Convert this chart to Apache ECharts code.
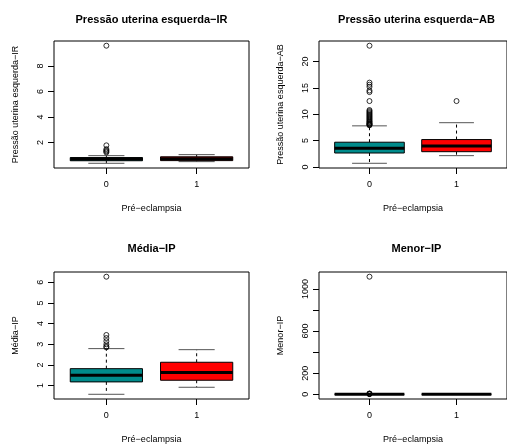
<!DOCTYPE html>
<html><head><meta charset="utf-8">
<script src="https://cdn.jsdelivr.net/npm/echarts@6/dist/echarts.min.js"></script>
<style>html,body{margin:0;padding:0;background:#fff}#c{width:507px;height:445px}</style>
</head><body><div id="c"></div>
<script>
// ---- data ----
const groups = [0, 1];
const groupLabels = ['0', '1'];
const titles = ['Pressão uterina esquerda−IR', 'Pressão uterina esquerda−AB', 'Média−IP', 'Menor−IP'];
const yNames = ['Pressão uterina esquerda−IR', 'Pressão uterina esquerda−AB', 'Média−IP', 'Menor−IP'];
const xName = 'Pré−eclampsia';
const boxColors = ['#008B8B', '#FF0000'];

// [min, Q1, median, Q3, max] per group (0, 1)
const irBox = [[0.37, 0.57, 0.70, 0.82, 0.97], [0.50, 0.58, 0.73, 0.88, 1.05]];
const irOut0 = [1.22, 1.30, 1.38, 1.48, 1.78, 9.60];
const irOut1 = [];
const irTicks = [2, 4, 6, 8];
const irTickLabels = [2, 4, 6, 8];

const abBox = [[0.70, 2.65, 3.55, 4.70, 7.80], [2.15, 2.90, 4.00, 5.20, 8.40]];
const abOut0 = [7.9, 8.0, 8.1, 8.2, 8.3, 8.5, 8.6, 8.8, 9.0, 9.2, 9.4, 9.6, 9.8, 10.0, 10.2, 10.4, 10.6, 10.8, 12.5, 14.2, 14.5, 15.2, 15.6, 16.0, 23.0];
const abOut1 = [12.5];
const abTicks = [0, 5, 10, 15, 20];
const abTickLabels = [0, 5, 10, 15, 20];

const mediaBox = [[0.58, 1.18, 1.50, 1.82, 2.79], [0.92, 1.26, 1.64, 2.13, 2.74]];
const mediaOut0 = [2.85, 2.90, 3.00, 3.15, 3.30, 3.45, 6.27];
const mediaOut1 = [];
const mediaTicks = [1, 2, 3, 4, 5, 6];
const mediaTickLabels = [1, 2, 3, 4, 5, 6];

const menorBox = [[0.4, 0.9, 1.1, 1.4, 2.1], [0.6, 0.9, 1.1, 1.4, 1.9]];
const menorOut0 = [2.6, 3.2, 4.5, 6.0, 8.0, 1116];
const menorOut1 = [];
const menorTicks = [0, 200, 400, 600, 800, 1000];
const menorTickLabels = [0, 200, 600, 1000];

// ---- build ----
const panels = [
  {box: irBox, out: [irOut0, irOut1], ticks: irTicks, labels: irTickLabels},
  {box: abBox, out: [abOut0, abOut1], ticks: abTicks, labels: abTickLabels},
  {box: mediaBox, out: [mediaOut0, mediaOut1], ticks: mediaTicks, labels: mediaTickLabels},
  {box: menorBox, out: [menorOut0, menorOut1], ticks: menorTicks, labels: menorTickLabels}
];
const gridPos = [
  {left: 54, top: 41, width: 195, height: 127},
  {left: 319, top: 41, width: 195, height: 127},
  {left: 54, top: 272, width: 195, height: 128},
  {left: 319, top: 272, width: 195, height: 128}
];
const titlePos = [[151.5, 20], [416.5, 20], [151.5, 249], [416.5, 249]];
const FONT = 'Liberation Sans, Arial, Helvetica, sans-serif';

function rangeOf(p) {
  let all = [];
  p.box.forEach(b => all = all.concat(b));
  p.out.forEach(o => all = all.concat(o));
  const lo = Math.min(...all), hi = Math.max(...all);
  const pad = (hi - lo) * 0.04;
  return [lo - pad, hi + pad];
}

const grids = [], xAxes = [], yAxes = [], series = [], graphics = [];
panels.forEach((p, i) => {
  grids.push(Object.assign({show: true, borderColor: '#000', borderWidth: 1, backgroundColor: 'transparent'}, gridPos[i]));
  const xr = [groups[0] - 0.5 - 0.08, groups[groups.length - 1] + 0.5 + 0.08];
  xAxes.push({
    type: 'value', gridIndex: i, min: xr[0], max: xr[1], position: 'bottom',
    axisLine: {show: false, onZero: false}, splitLine: {show: false},
    axisTick: {show: true, customValues: groups, length: 6, lineStyle: {color: '#000', width: 1}},
    axisLabel: {show: true, customValues: groups, formatter: v => groupLabels[groups.indexOf(Math.round(v))], margin: 12, fontSize: 9, color: '#000', fontFamily: FONT},
    name: xName, nameLocation: 'middle', nameGap: 36,
    nameTextStyle: {fontSize: 9, color: '#000', fontFamily: FONT}
  });
  const yr = rangeOf(p);
  yAxes.push({
    type: 'value', gridIndex: i, min: yr[0], max: yr[1], position: 'left',
    axisLine: {show: false, onZero: false}, splitLine: {show: false},
    axisTick: {show: true, customValues: p.ticks, length: 6, lineStyle: {color: '#000', width: 1}},
    axisLabel: {show: true, customValues: p.labels, formatter: v => String(Math.round(v * 1000) / 1000), rotate: 90, margin: 9, fontSize: 9, color: '#000', fontFamily: FONT},
    name: yNames[i], nameLocation: 'middle', nameGap: 34,
    nameTextStyle: {fontSize: 9, color: '#000', fontFamily: FONT}
  });
  series.push({
    type: 'custom', xAxisIndex: i, yAxisIndex: i,
    data: groups.map((g, k) => [g].concat(p.box[k]).concat([k])),
    encode: {x: 0, y: [1, 2, 3, 4, 5]},
    renderItem: function (params, api) {
      const x = api.value(0);
      const v = [1, 2, 3, 4, 5].map(j => api.value(j));
      const c = v.map(val => api.coord([x, val]));
      const hw = api.size([0.8, 0])[0] / 2;
      const cw = hw / 2;
      const cx = c[2][0];
      const col = boxColors[api.value(6)];
      return {type: 'group', children: [
        {type: 'line', shape: {x1: cx, y1: c[3][1], x2: cx, y2: c[4][1]}, style: {stroke: '#000', lineWidth: 1, lineDash: [3, 3]}},
        {type: 'line', shape: {x1: cx, y1: c[1][1], x2: cx, y2: c[0][1]}, style: {stroke: '#000', lineWidth: 1, lineDash: [3, 3]}},
        {type: 'line', shape: {x1: cx - cw, y1: c[4][1], x2: cx + cw, y2: c[4][1]}, style: {stroke: '#555', lineWidth: 1}},
        {type: 'line', shape: {x1: cx - cw, y1: c[0][1], x2: cx + cw, y2: c[0][1]}, style: {stroke: '#555', lineWidth: 1}},
        {type: 'rect', shape: {x: cx - hw, y: c[3][1], width: 2 * hw, height: c[1][1] - c[3][1]}, style: {fill: col, stroke: '#000', lineWidth: 1}},
        {type: 'line', shape: {x1: cx - hw, y1: c[2][1], x2: cx + hw, y2: c[2][1]}, style: {stroke: '#000', lineWidth: 3}}
      ]};
    },
    z: 2, silent: true
  });
  const outData = [];
  groups.forEach((g, k) => p.out[k].forEach(val => outData.push([g, val])));
  series.push({
    type: 'scatter', xAxisIndex: i, yAxisIndex: i, data: outData,
    symbol: 'circle', symbolSize: 5,
    itemStyle: {color: 'rgba(0,0,0,0)', borderColor: '#000', borderWidth: 1},
    z: 3, silent: true
  });
  graphics.push({
    type: 'text', x: titlePos[i][0], y: titlePos[i][1],
    style: {text: titles[i], font: 'bold 11px ' + FONT, fill: '#000', textAlign: 'center', textVerticalAlign: 'middle'}
  });
});

const chart = echarts.init(document.getElementById('c'), null, {renderer: 'canvas'});
chart.setOption({
  animation: false,
  backgroundColor: '#fff',
  grid: grids, xAxis: xAxes, yAxis: yAxes, series: series,
  graphic: graphics
});
</script></body></html>
